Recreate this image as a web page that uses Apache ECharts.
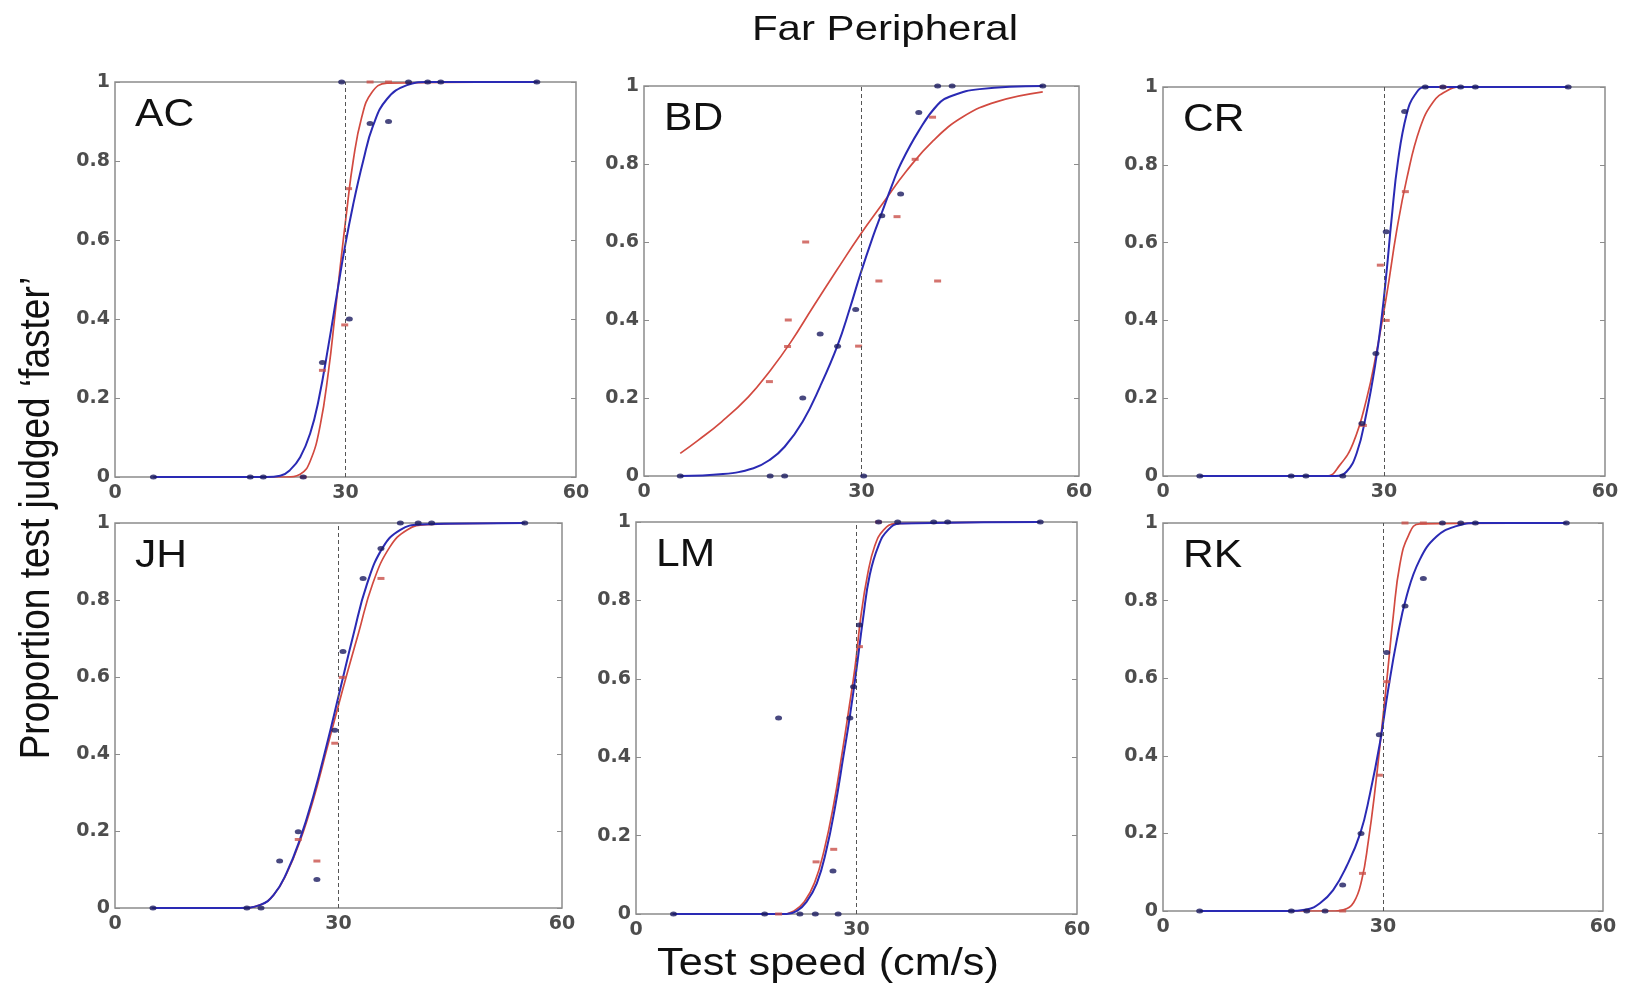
<!DOCTYPE html>
<html>
<head>
<meta charset="utf-8">
<script src="https://cdn.jsdelivr.net/npm/echarts@6/dist/echarts.min.js"></script>
<style>
  html, body { margin: 0; padding: 0; background: #fff; }
  #chart { width: 1633px; height: 989px; }
</style>
</head>
<body>
<div id="chart"></div>
<script>
// ---- Text ----
const TITLE = 'Far Peripheral';
const X_NAME = 'Test speed (cm/s)';
const Y_NAME = 'Proportion test judged \u2018faster\u2019';

// ---- Axes ----
const subjects = ['AC', 'BD', 'CR', 'JH', 'LM', 'RK'];
const xTicks = [0, 30, 60];
const yTicks = [0, 0.2, 0.4, 0.6, 0.8, 1];
const refSpeed = 30; // standard speed (cm/s)

// ---- Observed proportions [speed, p] and fitted psychometric curves ----
// AC
const acBluePts = [[5,0],[17.6,0],[19.3,0],[24.5,0],[27,0.29],[29.5,1],[30.5,0.4],[33.2,0.895],[35.6,0.9],[38.2,1],[40.7,1],[42.4,1],[54.9,1]];
const acRedPts = [[24.5,0],[27,0.27],[29.9,0.385],[30.4,0.73],[33.2,1],[35.6,1]];
const acBlueFit = [[5,0],[19.7,0],[21.5,0.003],[22.8,0.018],[24.1,0.05],[25.4,0.11],[26.5,0.195],[27.8,0.335],[28.9,0.465],[29.9,0.58],[31,0.69],[32.3,0.8],[33.6,0.89],[35.4,0.957],[38,0.992],[40.6,1],[55,1]];
const acRedFit = [[5,0],[22.3,0],[24.1,0.007],[25.4,0.04],[26.7,0.13],[27.8,0.27],[28.6,0.405],[29.3,0.53],[30.2,0.68],[31,0.8],[32.1,0.91],[33.4,0.973],[35.4,0.997],[55,1]];
// BD
const bdBluePts = [[5,0],[17.4,0],[19.4,0],[21.9,0.2],[24.3,0.364],[26.7,0.333],[29.2,0.427],[30.3,0],[32.8,0.667],[35.4,0.723],[37.9,0.932],[40.5,1],[42.5,1],[55,1]];
const bdRedPts = [[17.3,0.242],[19.9,0.4],[19.8,0.332],[22.3,0.6],[29.6,0.333],[32.4,0.5],[34.9,0.665],[37.4,0.812],[39.8,0.92],[40.5,0.5]];
const bdBlueFit = [[5,0],[10.9,0.005],[15.1,0.02],[17.4,0.042],[19.4,0.075],[21.9,0.14],[24.3,0.23],[26.7,0.335],[28.4,0.43],[29.8,0.515],[31.6,0.615],[32.8,0.675],[34.2,0.745],[35.4,0.8],[37.9,0.885],[40.5,0.952],[42.5,0.975],[46.3,0.992],[55,1]];
const bdRedFit = [[5,0.058],[7.5,0.092],[10.7,0.139],[14.4,0.203],[17.4,0.27],[20.2,0.342],[23.4,0.436],[26.6,0.528],[29.8,0.618],[33.1,0.703],[36.2,0.782],[39.9,0.86],[44,0.921],[48.7,0.96],[55,0.985]];
// CR
const crBluePts = [[5,0],[17.4,0],[19.4,0],[24.4,0],[27,0.135],[28.9,0.315],[30.3,0.628],[32.8,0.937],[35.6,1],[38,1],[40.4,1],[42.4,1],[55,1]];
const crRedPts = [[27.2,0.13],[29.5,0.542],[30.3,0.4],[32.9,0.731],[38,1]];
const crBlueFit = [[5,0],[23.4,0],[24.9,0.011],[26.3,0.059],[27.6,0.16],[28.8,0.285],[29.7,0.41],[30.4,0.535],[31,0.655],[31.9,0.81],[33.1,0.932],[34.2,0.98],[35.6,1],[55,1]];
const crRedFit = [[5,0],[22.2,0],[24,0.028],[25.8,0.084],[27.6,0.195],[29,0.32],[30.4,0.47],[31.7,0.628],[33.1,0.765],[34.9,0.895],[36.7,0.962],[38.5,0.99],[40.3,1],[55,1]];
// JH
const jhBluePts = [[5.1,0],[17.7,0],[19.6,0],[22.1,0.122],[24.6,0.198],[27.1,0.074],[29.5,0.462],[30.6,0.666],[33.3,0.856],[35.7,0.934],[38.3,1],[40.7,1],[42.5,1],[55,1]];
const jhRedPts = [[24.6,0.178],[27.1,0.122],[29.5,0.428],[30.5,0.599],[35.7,0.856]];
const jhBlueFit = [[5,0],[16.8,0],[19.5,0.008],[21.3,0.034],[23,0.09],[24.8,0.177],[26.6,0.289],[28.4,0.422],[30.2,0.566],[32,0.71],[33.8,0.84],[36,0.938],[38.3,0.982],[40.9,0.996],[55,1]];
const jhRedFit = [[5,0],[16.8,0],[19.5,0.008],[21.3,0.034],[23,0.088],[24.8,0.172],[26.6,0.28],[28.4,0.41],[30.6,0.57],[32.7,0.715],[34.6,0.843],[36.9,0.938],[39.2,0.982],[41.8,0.996],[55,1]];
// LM
const lmBluePts = [[5.1,0],[17.5,0],[19.4,0.5],[22.3,0],[24.4,0],[26.8,0.11],[27.5,0],[29.1,0.5],[29.6,0.58],[30.4,0.737],[33,1],[35.6,1],[40.5,1],[42.4,1],[55,1]];
const lmRedPts = [[19.4,0],[24.5,0.133],[26.9,0.165],[30.4,0.682],[33,1]];
const lmBlueFit = [[5,0],[20.5,0],[21.9,0.008],[23.2,0.031],[24.6,0.078],[25.9,0.163],[27.1,0.275],[28.2,0.4],[29.1,0.505],[30,0.625],[30.9,0.755],[31.8,0.865],[33,0.94],[34.3,0.98],[35.9,0.996],[55,1]];
const lmRedFit = [[5,0],[20,0],[21.5,0.008],[22.9,0.031],[24.3,0.08],[25.6,0.163],[26.9,0.28],[28,0.405],[28.9,0.515],[29.8,0.63],[30.6,0.76],[31.5,0.865],[32.5,0.94],[33.7,0.98],[35.3,0.996],[55,1]];
// RK
const rkBluePts = [[5,0],[17.5,0],[19.6,0],[22.1,0],[24.5,0.067],[27,0.2],[29.5,0.454],[30.5,0.666],[33,0.786],[35.5,0.857],[38.1,1],[40.6,1],[42.6,1],[55,1]];
const rkRedPts = [[24.5,0],[27.2,0.097],[29.5,0.35],[30.5,0.591],[33,1],[35.5,1]];
const rkBlueFit = [[5,0],[16.9,0],[19.6,0.004],[21.4,0.02],[23.2,0.054],[25,0.114],[26.9,0.2],[28.2,0.3],[29.6,0.435],[30.7,0.57],[31.9,0.7],[33.2,0.81],[35,0.905],[37.3,0.965],[40,0.992],[42.8,1],[55,1]];
const rkRedFit = [[5,0],[23.5,0],[24.6,0.003],[26,0.022],[27.1,0.08],[28,0.18],[28.9,0.31],[29.8,0.465],[30.6,0.61],[31.4,0.76],[32.3,0.893],[33.5,0.969],[35,0.998],[55,1]];

const panelData = {
  AC: { bluePts: acBluePts, redPts: acRedPts, blueFit: acBlueFit, redFit: acRedFit },
  BD: { bluePts: bdBluePts, redPts: bdRedPts, blueFit: bdBlueFit, redFit: bdRedFit },
  CR: { bluePts: crBluePts, redPts: crRedPts, blueFit: crBlueFit, redFit: crRedFit },
  JH: { bluePts: jhBluePts, redPts: jhRedPts, blueFit: jhBlueFit, redFit: jhRedFit },
  LM: { bluePts: lmBluePts, redPts: lmRedPts, blueFit: lmBlueFit, redFit: lmRedFit },
  RK: { bluePts: rkBluePts, redPts: rkRedPts, blueFit: rkBlueFit, redFit: rkRedFit }
};

// ---- Panel placement (px) ----
const layout = {
  AC: { left: 115,  top: 82,  width: 461, height: 395 },
  BD: { left: 644,  top: 86,  width: 435, height: 390 },
  CR: { left: 1163, top: 87,  width: 442, height: 389 },
  JH: { left: 115,  top: 523, width: 447, height: 385 },
  LM: { left: 636,  top: 522, width: 441, height: 392 },
  RK: { left: 1163, top: 523, width: 440, height: 388 }
};

const FRAME = '#8c8c8c';
const BLUE_LINE = '#2a2ab4';
const RED_LINE = '#d24a40';
const BLUE_DOT = '#1b1b60';
const RED_DOT = '#c9504a';
const tickFont = { fontFamily: 'DejaVu Sans', fontWeight: 'bold', fontSize: 19, color: '#4d4d4d' };
const TEXT_FONT = 'Liberation Sans, Arial, sans-serif';

const grids = [], xAxes = [], yAxes = [], rightAxes = [], series = [], graphics = [];

subjects.forEach((s, i) => {
  const L = layout[s];
  grids.push(Object.assign({ show: true, borderColor: FRAME, borderWidth: 1.5, backgroundColor: '#fff' }, L));
  xAxes.push({
    type: 'value', gridIndex: i, min: xTicks[0], max: xTicks[xTicks.length - 1],
    interval: xTicks[1] - xTicks[0],
    axisLine: { show: false }, axisTick: { show: false }, splitLine: { show: false },
    axisLabel: Object.assign({ margin: 7 }, tickFont)
  });
  yAxes.push({
    type: 'value', gridIndex: i, min: yTicks[0], max: yTicks[yTicks.length - 1],
    interval: yTicks[1] - yTicks[0],
    axisLine: { show: false }, splitLine: { show: false },
    axisTick: { show: true, inside: true, length: 5, lineStyle: { color: FRAME, width: 1 } },
    axisLabel: Object.assign({ margin: 5 }, tickFont)
  });
  rightAxes.push({
    type: 'value', gridIndex: i, position: 'right', min: yTicks[0], max: yTicks[yTicks.length - 1],
    interval: yTicks[1] - yTicks[0],
    axisLine: { show: false }, splitLine: { show: false }, axisLabel: { show: false },
    axisTick: { show: true, inside: true, length: 5, lineStyle: { color: FRAME, width: 1 } }
  });

  const d = panelData[s];
  series.push({
    name: s + ' red fit', type: 'line', xAxisIndex: i, yAxisIndex: i, data: d.redFit,
    showSymbol: false, smooth: 0.45, silent: true, z: 2,
    lineStyle: { color: RED_LINE, width: 1.7 },
    markLine: {
      silent: true, symbol: 'none', label: { show: false },
      lineStyle: { type: [4, 3], color: '#555', width: 1 },
      data: [{ xAxis: refSpeed }]
    }
  });
  series.push({
    name: s + ' blue fit', type: 'line', xAxisIndex: i, yAxisIndex: i, data: d.blueFit,
    showSymbol: false, smooth: 0.45, silent: true, z: 3,
    lineStyle: { color: BLUE_LINE, width: 2 }
  });
  series.push({
    name: s + ' red data', type: 'scatter', xAxisIndex: i, yAxisIndex: i, data: d.redPts,
    symbol: 'rect', symbolSize: [7, 3], itemStyle: { color: RED_DOT }, z: 4
  });
  series.push({
    name: s + ' blue data', type: 'scatter', xAxisIndex: i, yAxisIndex: i, data: d.bluePts,
    symbol: 'circle', symbolSize: [7, 5], itemStyle: { color: BLUE_DOT }, z: 5
  });

  graphics.push({
    type: 'text', x: L.left + 20, y: L.top + 34, scaleX: 1.12, z: 10,
    style: {
      text: s, fontFamily: TEXT_FONT, fontSize: 38, fill: '#111',
      textAlign: 'left', textVerticalAlign: 'middle', align: 'left', verticalAlign: 'middle'
    }
  });
});

graphics.push({
  type: 'text', x: 885, y: 30, scaleX: 1.2, z: 10,
  style: {
    text: TITLE, fontFamily: TEXT_FONT, fontSize: 35, fill: '#111',
    textAlign: 'center', textVerticalAlign: 'middle', align: 'center', verticalAlign: 'middle'
  }
});
graphics.push({
  type: 'text', x: 828, y: 965, scaleX: 1.14, z: 10,
  style: {
    text: X_NAME, fontFamily: TEXT_FONT, fontSize: 38, fill: '#111',
    textAlign: 'center', textVerticalAlign: 'middle', align: 'center', verticalAlign: 'middle'
  }
});
graphics.push({
  type: 'text', x: 37, y: 518, rotation: Math.PI / 2, scaleY: 1.15, z: 10,
  style: {
    text: Y_NAME, fontFamily: TEXT_FONT, fontSize: 37, fill: '#111',
    textAlign: 'center', textVerticalAlign: 'middle', align: 'center', verticalAlign: 'middle'
  }
});

const chart = echarts.init(document.getElementById('chart'), null, { renderer: 'canvas' });
chart.setOption({
  backgroundColor: '#fff',
  animation: false,
  grid: grids,
  xAxis: xAxes,
  yAxis: yAxes.concat(rightAxes),
  series: series,
  graphic: { elements: graphics }
});
</script>
</body>
</html>
